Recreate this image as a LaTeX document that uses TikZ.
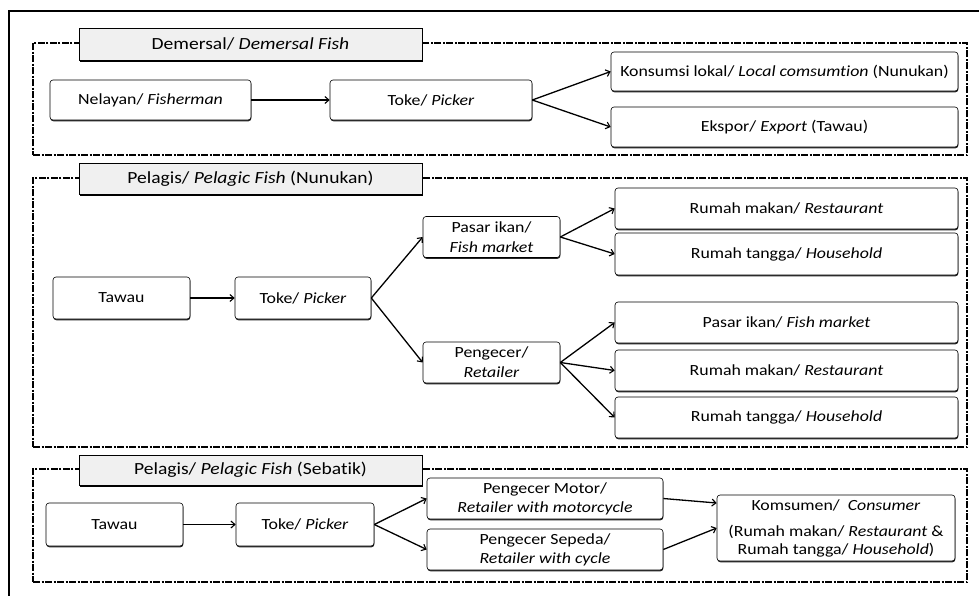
\documentclass[tikz,border=0pt]{standalone}
\usepackage{fontspec}
\setmainfont{Carlito}[Ligatures=NoCommon, FakeStretch=1.15]
\usetikzlibrary{arrows.meta,shadows}
\begin{document}
\begin{tikzpicture}[x=1pt,y=-1pt,
  box/.style={draw=black, line width=0.6pt, rounded corners=3pt, fill=white, align=center,
    font=\fontsize{15.5}{20}\selectfont, inner sep=0pt,
    general shadow={shadow xshift=0.4pt, shadow yshift=-1.3pt, fill=black!85}},
  titlebox/.style={draw=black, line width=0.6pt, fill=black!6, inner sep=0pt,
    font=\fontsize{17}{20}\selectfont,
    general shadow={shadow xshift=1pt, shadow yshift=-1.5pt, fill=black}},
  grp/.style={draw=black, line width=1.3pt, inner sep=0pt,
    dash pattern=on 7pt off 1.5pt on 2pt off 1.5pt},
  arr/.style={line width=1.3pt, -{Straight Barb[length=4pt,width=7pt,line width=1.1pt]}},
  frame/.style={line width=2pt}]
\useasboundingbox (0,0) rectangle (979,595);

% outer frame (extends beyond the visible area)
\coordinate (fTR) at (981,11);
\coordinate (fTL) at (9,11);
\coordinate (fBL) at (9,597);
\draw[frame] (fTR) -- (fTL) -- (fBL);

% group frames
\node[grp, minimum width=934, minimum height=112] (g1) at (500,99) {};
\node[grp, minimum width=934, minimum height=269] (g2) at (500,312.5) {};
\node[grp, minimum width=934, minimum height=113] (g3) at (500,525.5) {};

% titles
\node[titlebox, minimum width=343, minimum height=32] (t1) at (250.5,44) {Demersal/ \textit{Demersal Fish}};
\node[titlebox, minimum width=343, minimum height=31] (t2) at (250.5,178.5) {Pelagis/ \textit{Pelagic Fish} (Nunukan)};
\node[titlebox, minimum width=343, minimum height=30] (t3) at (250.5,470) {Pelagis/ \textit{Pelagic Fish} (Sebatik)};

% group 1
\node[box, minimum width=201, minimum height=40] (nel) at (150.5,100) {Nelayan/ \textit{Fisherman}};
\node[box, minimum width=202, minimum height=40] (toke1) at (431,100) {Toke/ \textit{Picker}};
\node[box, minimum width=347, minimum height=39] (kons) at (784.5,71.5) {Konsumsi lokal/ \textit{Local comsumtion} (Nunukan)};
\node[box, minimum width=347, minimum height=40] (eksp) at (784.5,127) {Ekspor/ \textit{Export} (Tawau)};
\draw[arr] (nel.east) -- (toke1.west);
\draw[arr] (toke1.east) -- (kons.west);
\draw[arr] (toke1.east) -- (eksp.west);

% group 2
\node[box, minimum width=137, minimum height=42] (taw2) at (121.5,298) {Tawau};
\node[box, minimum width=136, minimum height=42] (toke2) at (303,298) {Toke/ \textit{Picker}};
\node[box, minimum width=137, minimum height=41] (pasar) at (491.5,237) {Pasar ikan/\\\textit{Fish market}};
\node[box, minimum width=137, minimum height=41] (peng) at (491.5,362.5) {Pengecer/\\\textit{Retailer}};
\node[box, minimum width=343, minimum height=41] (rm1) at (786.5,208.5) {Rumah makan/ \textit{Restaurant}};
\node[box, minimum width=343, minimum height=42] (rt1) at (786.5,254) {Rumah tangga/ \textit{Household}};
\node[box, minimum width=343, minimum height=41] (pi2) at (786.5,322.5) {Pasar ikan/ \textit{Fish market}};
\node[box, minimum width=343, minimum height=41] (rm2) at (786.5,370.5) {Rumah makan/ \textit{Restaurant}};
\node[box, minimum width=343, minimum height=41] (rt2) at (786.5,417.5) {Rumah tangga/ \textit{Household}};
\draw[arr] (taw2.east) -- (toke2.west);
\draw[arr] (toke2.east) -- (pasar.west);
\draw[arr] (toke2.east) -- (peng.west);
\draw[arr] (pasar.east) -- (rm1.west);
\draw[arr] (pasar.east) -- (rt1.west);
\draw[arr] (peng.east) -- (pi2.west);
\draw[arr] (peng.east) -- (rm2.west);
\draw[arr] (peng.east) -- (rt2.west);

% group 3
\node[box, minimum width=137, minimum height=43] (taw3) at (114.5,524.5) {Tawau};
\node[box, minimum width=138, minimum height=43] (toke3) at (305,524.5) {Toke/ \textit{Picker}};
\node[box, minimum width=236, minimum height=41, font=\fontsize{15.5}{19}\selectfont] (motor) at (545,498.5) {Pengecer Motor/\\\textit{Retailer with motorcycle}};
\node[box, minimum width=236, minimum height=41, font=\fontsize{15.5}{19}\selectfont] (sepeda) at (545,549.5) {Pengecer Sepeda/\\\textit{Retailer with cycle}};
\node[box, minimum width=238, minimum height=66, font=\fontsize{15.5}{17.5}\selectfont] (kom) at (836,528) {Komsumen/ \ \textit{Consumer}\\[9pt](Rumah makan/ \textit{Restaurant} \&\\Rumah tangga/ \textit{Household})};
\draw[arr] (taw3.east) -- (toke3.west);
\draw[arr] (toke3.east) -- (motor.west);
\draw[arr] (toke3.east) -- (sepeda.west);
\draw[arr] (motor.east) -- ([yshift=25pt]kom.west);
\draw[arr] (sepeda.east) -- ([yshift=0pt]kom.west);
\end{tikzpicture}
\end{document}
